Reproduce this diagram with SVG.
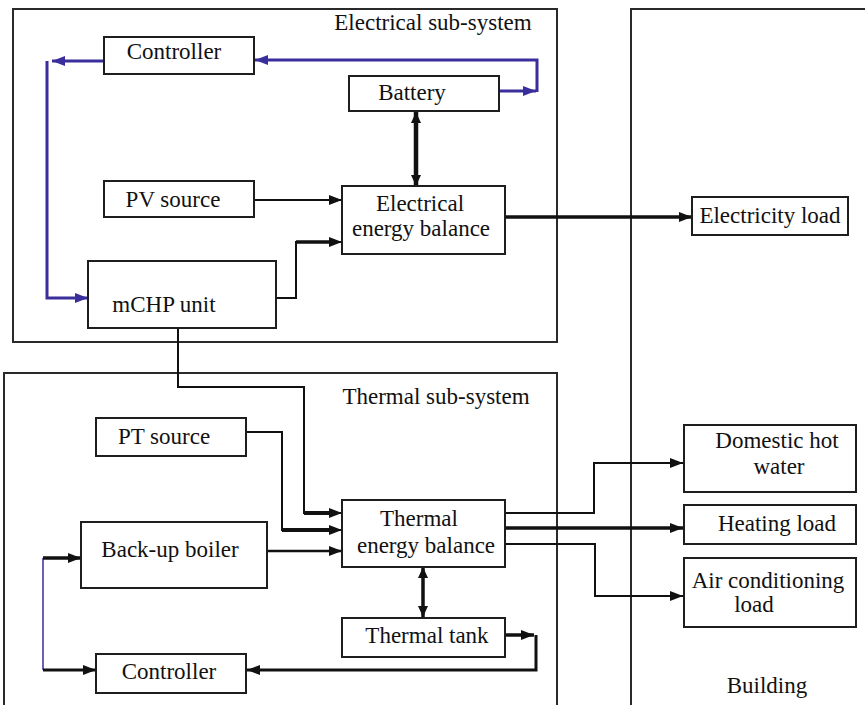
<svg xmlns="http://www.w3.org/2000/svg" width="865" height="705" viewBox="0 0 865 705">
<style>
.box{fill:none;stroke:#1e1e1e;stroke-width:2}
.frame{fill:none;stroke:#2a2a2a;stroke-width:2}
.lbl{font-family:'Liberation Serif','DejaVu Serif',serif;font-size:23px;fill:#111;text-anchor:middle}
.c{fill:none;stroke:#111;stroke-width:2}
.t{fill:none;stroke:#111;stroke-width:3.5}
.b{fill:none;stroke:#3a2e9c;stroke-width:3}
</style>
<defs>
<marker id="ah" markerUnits="userSpaceOnUse" markerWidth="14" markerHeight="10" refX="13" refY="5" orient="auto-start-reverse"><path d="M0,0 L13,5 L0,10 z" fill="#111"/></marker>
<marker id="ahs" markerUnits="userSpaceOnUse" markerWidth="12" markerHeight="10" refX="11" refY="5" orient="auto-start-reverse"><path d="M0,0 L11,5 L0,10 z" fill="#111"/></marker>
<marker id="abl" markerUnits="userSpaceOnUse" markerWidth="14" markerHeight="10" refX="13" refY="5" orient="auto"><path d="M0,0 L13,5 L0,10 z" fill="#3a2e9c"/></marker>
</defs>
<rect width="865" height="705" fill="#fff"/>

<g id="frames">
<rect class="frame" x="13" y="9" width="544" height="333"/>
<rect class="frame" x="4" y="373" width="553" height="345"/>
<rect class="frame" x="631" y="9" width="260" height="710"/>
<text class="lbl" x="433" y="30">Electrical sub-system</text>
<text class="lbl" x="436" y="404">Thermal sub-system</text>
<text class="lbl" x="767" y="693">Building</text>
</g>

<g id="connectors">
<path class="b" d="M104,61 H52" marker-end="url(#abl)"/>
<path class="b" d="M47,61 V298 H88" marker-end="url(#abl)"/>
<path class="b" d="M499,91 H536" marker-end="url(#abl)"/>
<path class="b" d="M537,92 V60 H255" marker-end="url(#abl)"/>
<path class="c" d="M416,112 V186" style="stroke-width:4.5" marker-start="url(#ahs)" marker-end="url(#ahs)"/>
<path class="c" d="M254,200 H342" marker-end="url(#ah)"/>
<path class="c" d="M276,298 H296 V242 H342" marker-end="url(#ah)"/>
<path class="c" d="M296,242 H330" style="stroke-width:3.5"/>
<path class="t" d="M505,217 H692" marker-end="url(#ah)"/>
<path class="c" d="M178,328 V387 H304 V513 H342" marker-end="url(#ah)"/>
<path class="c" d="M304,513 H330" style="stroke-width:4"/>
<path class="c" d="M246,432 H282 V530 H342" marker-end="url(#ah)"/>
<path class="c" d="M282,530 H330" style="stroke-width:4"/>
<path class="c" d="M267,551 H342" style="stroke-width:2.5" marker-end="url(#ah)"/>
<path class="t" d="M423,567 V617" marker-start="url(#ahs)" marker-end="url(#ahs)"/>
<path class="t" d="M505,635 H534" marker-end="url(#ah)"/>
<path class="c" d="M536,635 V670 H247" style="stroke-width:3" marker-end="url(#ah)"/>
<path d="M43,558 V670" fill="none" stroke="#3a2e9c" stroke-width="1.5"/>
<path class="t" d="M43,558 H81" marker-end="url(#ah)"/>
<path class="c" d="M43,670 H96" style="stroke-width:3" marker-end="url(#ah)"/>
<path class="c" d="M505,513 H594 V463 H683" marker-end="url(#ah)"/>
<path class="t" d="M505,528 H683" marker-end="url(#ah)"/>
<path class="c" d="M505,544 H595 V596 H683" marker-end="url(#ah)"/>
</g>

<g id="controller-e"><rect class="box" x="104" y="37" width="150" height="37"/><text class="lbl" x="174" y="59">Controller</text></g>
<g id="battery"><rect class="box" x="349" y="76" width="150" height="35"/><text class="lbl" x="412" y="100">Battery</text></g>
<g id="pv-source"><rect class="box" x="104" y="181" width="150" height="36"/><text class="lbl" x="173" y="207">PV source</text></g>
<g id="elec-balance"><rect class="box" x="342" y="186" width="163" height="68"/><text class="lbl" x="420" y="211">Electrical</text><text class="lbl" x="421" y="236">energy balance</text></g>
<g id="mchp"><rect class="box" x="88" y="261" width="188" height="67"/><text class="lbl" x="164" y="312">mCHP unit</text></g>
<g id="elec-load"><rect class="box" x="692" y="197" width="156" height="38"/><text class="lbl" x="770" y="223">Electricity load</text></g>

<g id="pt-source"><rect class="box" x="96" y="418" width="150" height="38"/><text class="lbl" x="164" y="444">PT source</text></g>
<g id="boiler"><rect class="box" x="81" y="522" width="186" height="66"/><text class="lbl" x="170" y="557">Back-up boiler</text></g>
<g id="thermal-balance"><rect class="box" x="342" y="500" width="163" height="67"/><text class="lbl" x="419" y="526">Thermal</text><text class="lbl" x="426" y="553">energy balance</text></g>
<g id="thermal-tank"><rect class="box" x="342" y="618" width="163" height="39"/><text class="lbl" x="427" y="643">Thermal tank</text></g>
<g id="controller-t"><rect class="box" x="96" y="654" width="150" height="39"/><text class="lbl" x="169" y="679">Controller</text></g>

<g id="dhw"><rect class="box" x="684" y="425" width="172" height="67"/><text class="lbl" x="777" y="448">Domestic hot</text><text class="lbl" x="779" y="474">water</text></g>
<g id="heating"><rect class="box" x="684" y="505" width="172" height="39"/><text class="lbl" x="777" y="531">Heating load</text></g>
<g id="ac"><rect class="box" x="684" y="558" width="172" height="69"/><text class="lbl" x="768" y="588">Air conditioning</text><text class="lbl" x="754" y="612">load</text></g>
</svg>
